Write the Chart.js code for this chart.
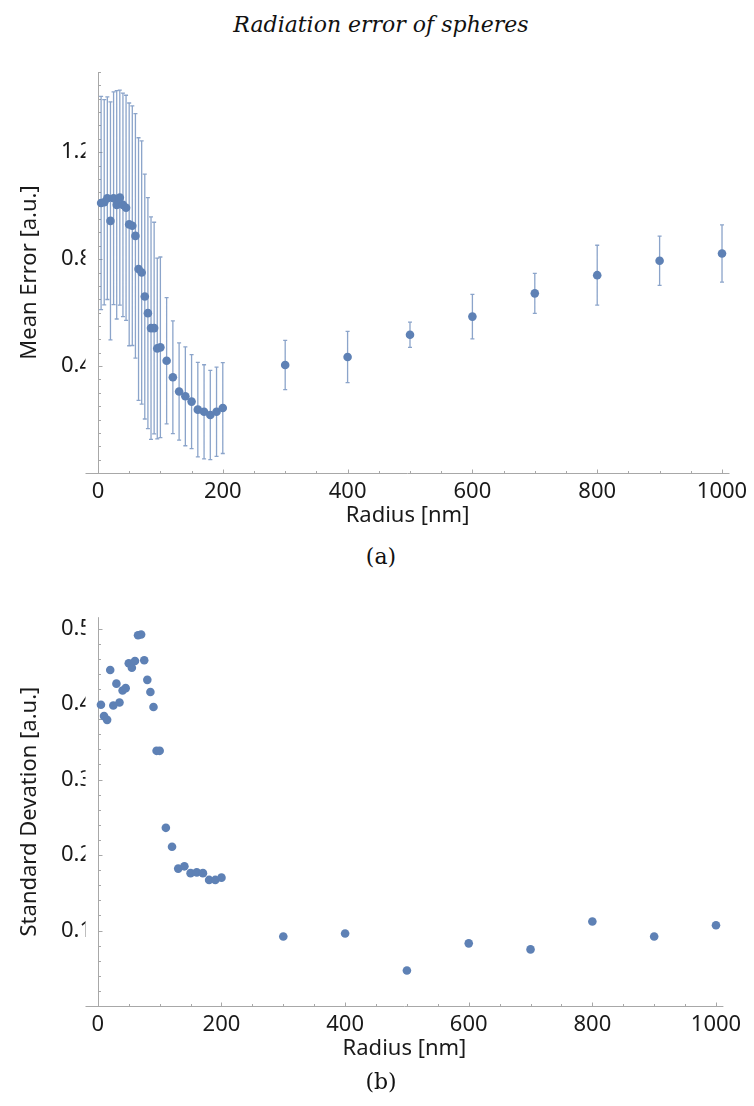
<!DOCTYPE html>
<html>
<head>
<meta charset="utf-8">
<script src="https://cdn.jsdelivr.net/npm/chart.js@4.4.0/dist/chart.umd.min.js"></script>
<style>
  html, body { margin: 0; padding: 0; background: #fff; }
  body { width: 754px; height: 1106px; position: relative; overflow: hidden; }
  .cap {
    position: absolute; left: 4px; width: 754px; text-align: center;
    font-family: "DejaVu Serif", serif; color: #111; line-height: 26px; white-space: nowrap;
  }
  #title { top: 12px; font-size: 22px; font-style: italic; }
  #capA { top: 544px; font-size: 22px; }
  #capB { top: 1069px; font-size: 22px; }
  canvas { position: absolute; left: 0; }
  #chartA { top: 50px; }
  #chartB { top: 595px; }
</style>
</head>
<body>
<div class="cap" id="title">Radiation error of spheres</div>
<canvas id="chartA" width="754" height="490"></canvas>
<div class="cap" id="capA">(a)</div>
<canvas id="chartB" width="754" height="475"></canvas>
<div class="cap" id="capB">(b)</div>

<script>
// sphere radius [nm]
const radius = [5, 10, 15, 20, 25, 30, 35, 40, 45, 50, 55, 60, 65, 70, 75, 80, 85, 90, 95, 100,
                110, 120, 130, 140, 150, 160, 170, 180, 190, 200,
                300, 400, 500, 600, 700, 800, 900, 1000];

// mean radiation error [a.u.]
const meanError = [1.010, 1.013, 1.028, 0.943, 1.028, 1.003, 1.030, 1.003, 0.992, 0.930,
                   0.925, 0.887, 0.763, 0.750, 0.660, 0.598, 0.542, 0.542, 0.466, 0.470,
                   0.420, 0.358, 0.305, 0.287, 0.267, 0.237, 0.229, 0.217, 0.229, 0.243,
                   0.404, 0.434, 0.517, 0.585, 0.672, 0.740, 0.794, 0.821];

// standard deviation [a.u.] (also the error bars of plot a)
const stdDev = [0.399, 0.384, 0.379, 0.445, 0.398, 0.427, 0.402, 0.418, 0.421, 0.454,
                0.448, 0.457, 0.491, 0.492, 0.458, 0.432, 0.416, 0.396, 0.338, 0.338,
                0.236, 0.211, 0.182, 0.185, 0.176, 0.177, 0.176, 0.167, 0.167, 0.170,
                0.092, 0.096, 0.047, 0.083, 0.075, 0.112, 0.092, 0.107];

// labelled ticks
const radiusLabels = [0, 200, 400, 600, 800, 1000];
const meanLabels = [0.4, 0.8, 1.2];
const stdLabels = [0.1, 0.2, 0.3, 0.4, 0.5];

const POINT_COLOR = '#5E81B5';
const BAR_COLOR = 'rgba(94, 129, 181, 0.72)';
const AXIS_COLOR = '#a8a8a8';
const TEXT_COLOR = '#1a1a1a';
const SANS = '"Noto Sans", "Open Sans", sans-serif';

const has = (list, v) => list.some(t => Math.abs(t - v) < 1e-6);

// Mathematica-like axes: y axis crosses at x = 0, small inward ticks
function axesPlugin(xLabels, yLabels) {
    return {
        id: 'mmaAxes',
        beforeDatasetsDraw(chart) {
            const { ctx, chartArea, scales: { x, y } } = chart;
            const x0 = Math.round(x.getPixelForValue(0)) + 0.5;
            const y0 = Math.round(chartArea.bottom) + 0.5;
            ctx.save();
            ctx.strokeStyle = AXIS_COLOR;
            ctx.lineWidth = 1;
            ctx.beginPath();
            ctx.moveTo(chartArea.left, y0);
            ctx.lineTo(chartArea.right, y0);
            ctx.moveTo(x0, chartArea.top);
            ctx.lineTo(x0, y0);
            x.ticks.forEach(t => {
                if (t.value === 0) return;
                const px = Math.round(x.getPixelForValue(t.value)) + 0.5;
                const len = has(xLabels, t.value) ? 4 : 2.5;
                ctx.moveTo(px, y0);
                ctx.lineTo(px, y0 - len);
            });
            y.ticks.forEach(t => {
                if (t.value === 0) return;
                const py = Math.round(y.getPixelForValue(t.value)) + 0.5;
                const len = has(yLabels, t.value) ? 4 : 2.5;
                ctx.moveTo(x0, py);
                ctx.lineTo(x0 + len, py);
            });
            ctx.stroke();
            ctx.restore();
        }
    };
}

// vertical error bars: center +- err
function errorBarPlugin(xs, center, err) {
    return {
        id: 'errorBars',
        beforeDatasetsDraw(chart) {
            const { ctx, scales: { x, y } } = chart;
            ctx.save();
            ctx.strokeStyle = BAR_COLOR;
            ctx.lineWidth = 1.3;
            ctx.beginPath();
            xs.forEach((r, i) => {
                const px = x.getPixelForValue(r);
                const top = y.getPixelForValue(center[i] + err[i]);
                const bot = y.getPixelForValue(center[i] - err[i]);
                ctx.moveTo(px, top);
                ctx.lineTo(px, bot);
                ctx.moveTo(px - 2, top);
                ctx.lineTo(px + 2, top);
                ctx.moveTo(px - 2, bot);
                ctx.lineTo(px + 2, bot);
            });
            ctx.stroke();
            ctx.restore();
        }
    };
}

function makeChart(id, values, yOpts, xLabels, yLabels, yTitle, padding, plugins) {
    const ctx = document.getElementById(id).getContext('2d');
    return new Chart(ctx, {
        type: 'scatter',
        data: {
            datasets: [{
                data: radius.map((r, i) => ({ x: r, y: values[i] })),
                backgroundColor: POINT_COLOR,
                borderWidth: 0,
                pointRadius: 4.3,
                pointHoverRadius: 4.3
            }]
        },
        options: {
            responsive: false,
            animation: false,
            clip: false,
            layout: { padding: padding },
            plugins: { legend: { display: false }, tooltip: { enabled: false } },
            scales: {
                x: {
                    type: 'linear',
                    position: 'bottom',
                    min: -20,
                    max: 1012,
                    grid: { display: false, drawTicks: false },
                    border: { display: false },
                    afterFit: s => { s.height = 60; },
                    ticks: {
                        stepSize: 50,
                        includeBounds: false,
                        autoSkip: false,
                        maxRotation: 0,
                        padding: 6,
                        color: TEXT_COLOR,
                        font: { family: SANS, size: 22 },
                        callback: v => has(xLabels, v) ? String(Math.round(v)) : ''
                    },
                    title: {
                        display: true,
                        text: 'Radius [nm]',
                        color: TEXT_COLOR,
                        font: { family: SANS, size: 22 }
                    }
                },
                y: {
                    type: 'linear',
                    position: 'left',
                    min: yOpts.min,
                    max: yOpts.max,
                    grid: { display: false, drawTicks: false },
                    border: { display: false },
                    afterFit: s => { s.width = 72.7; },
                    ticks: {
                        stepSize: yOpts.step,
                        includeBounds: false,
                        autoSkip: false,
                        padding: -6.5,
                        color: TEXT_COLOR,
                        font: { family: SANS, size: 22 },
                        callback: v => has(yLabels, v) && v > 0 ? v.toFixed(1) : ''
                    },
                    title: {
                        display: true,
                        text: yTitle,
                        color: TEXT_COLOR,
                        font: { family: SANS, size: 22 }
                    }
                }
            }
        },
        plugins: plugins
    });
}

makeChart('chartA', meanError, { min: 0, max: 1.5, step: 0.05 },
    radiusLabels, meanLabels, 'Mean Error [a.u.]',
    { left: 12.8, right: 24.5, top: 22, bottom: 7 },
    [axesPlugin(radiusLabels, meanLabels), errorBarPlugin(radius, meanError, stdDev)]);

makeChart('chartB', stdDev, { min: 0, max: 0.515, step: 0.02 },
    radiusLabels, stdLabels, 'Standard Devation [a.u.]',
    { left: 12.8, right: 30.6, top: 22.2, bottom: 4 },
    [axesPlugin(radiusLabels, stdLabels)]);
</script>
</body>
</html>
